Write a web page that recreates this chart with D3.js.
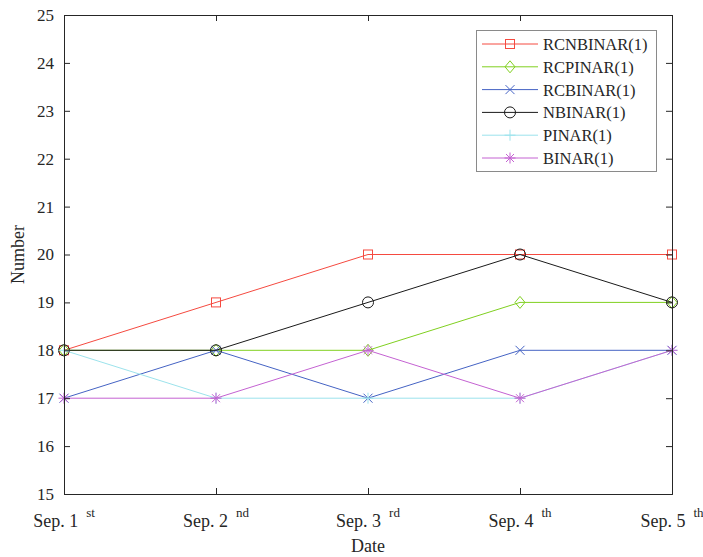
<!DOCTYPE html>
<html><head><meta charset="utf-8">
<script src="https://cdn.jsdelivr.net/npm/d3@7"></script>
<style>body{margin:0;background:#fff}svg{display:block}</style>
</head><body><svg id="c" width="703" height="557"></svg>
<script>
const dates = ["Sep. 1", "Sep. 2", "Sep. 3", "Sep. 4", "Sep. 5"];
const sups = ["st", "nd", "rd", "th", "th"];
const yTicks = [15,16,17,18,19,20,21,22,23,24,25];
const seriesNames = ["RCNBINAR(1)", "RCPINAR(1)", "RCBINAR(1)", "NBINAR(1)", "PINAR(1)", "BINAR(1)"];
const RCNBINAR = [18, 19, 20, 20, 20];
const RCPINAR  = [18, 18, 18, 19, 19];
const RCBINAR  = [17, 18, 17, 18, 18];
const NBINAR   = [18, 18, 19, 20, 19];
const PINAR    = [18, 17, 17, 17, 18];
const BINAR    = [17, 17, 18, 17, 18];
const colors = ["#f54a40", "#80d020", "#4563c4", "#1a1a1a", "#9ce3ec", "#c462d2"];
const markers = ["square", "diamond", "x", "circle", "plus", "star"];
const values = [RCNBINAR, RCPINAR, RCBINAR, NBINAR, PINAR, BINAR];

const FONT = "'Liberation Serif', 'Times New Roman', Times, 'DejaVu Serif', serif";
const svg = d3.select("#c");
const L=64, R=672, T=15, B=494;
const x = d3.scalePoint().domain(d3.range(dates.length)).range([L, R]);
const y = d3.scaleLinear().domain([15, 25]).range([B, T]);
const axisCol = "#262626";

function drawMarker(g, type, cx, cy, col) {
  const s = g.append("g").attr("transform", `translate(${cx},${cy})`)
    .attr("fill","none").attr("stroke",col).attr("stroke-width",1);
  if (type==="square") s.append("rect").attr("x",-4.5).attr("y",-4.5).attr("width",9).attr("height",9);
  else if (type==="diamond") s.append("path").attr("d","M0,-6L5,0L0,6L-5,0Z");
  else if (type==="x") s.append("path").attr("d","M-4.5,-4.5L4.5,4.5M-4.5,4.5L4.5,-4.5");
  else if (type==="circle") s.append("circle").attr("r",5.5);
  else if (type==="plus") s.append("path").attr("d","M-5.5,0L5.5,0M0,-5.5L0,5.5");
  else if (type==="star") s.append("path").attr("d","M-5.5,0L5.5,0M0,-5.5L0,5.5M-4,-4L4,4M-4,4L4,-4");
}

// series
const line = d3.line().x((d,i)=>x(i)).y(d=>y(d));
values.forEach((v, k) => {
  const g = svg.append("g");
  g.append("path").datum(v).attr("d", line).attr("fill","none").attr("stroke",colors[k]).attr("stroke-width",1);
  v.forEach((d,i)=>drawMarker(g, markers[k], x(i), y(d), colors[k]));
});

// axes
const gl = svg.append("g").attr("transform",`translate(${L},0)`)
  .call(d3.axisLeft(y).tickValues(yTicks).tickSize(-6).tickPadding(10).tickFormat(d3.format("d")));
const gr = svg.append("g").attr("transform",`translate(${R},0)`)
  .call(d3.axisRight(y).tickValues(yTicks).tickSize(-6).tickFormat(""));
const gb = svg.append("g").attr("transform",`translate(0,${B})`)
  .call(d3.axisBottom(x).tickSize(-6).tickFormat(""));
const gt = svg.append("g").attr("transform",`translate(0,${T})`)
  .call(d3.axisTop(x).tickSize(-6).tickFormat(""));
[gl,gr,gb,gt].forEach(g=>{
  g.attr("font-family", FONT);
  g.select(".domain").attr("stroke",axisCol);
  g.selectAll(".tick line").attr("stroke",axisCol);
});
gl.selectAll(".tick text").attr("font-size",17).attr("fill",axisCol).style("font-family",FONT);

// x tick labels with superscripts
const xl = svg.append("g");
dates.forEach((d,i)=>{
  const t = xl.append("text").attr("x", x(i)).attr("y", 527).attr("text-anchor","middle")
    .attr("font-size",18).attr("fill",axisCol).style("font-family",FONT);
  t.append("tspan").text(d);
  t.append("tspan").attr("dx",8).attr("dy",-10).attr("font-size",13).text(sups[i]);
});

// axis labels
svg.append("text").attr("x",(L+R)/2).attr("y",552).attr("text-anchor","middle").attr("font-size",18)
  .attr("fill",axisCol).style("font-family",FONT).text("Date");
svg.append("text").attr("transform",`translate(24,${(T+B)/2}) rotate(-90)`).attr("text-anchor","middle")
  .attr("font-size",18).attr("fill",axisCol).style("font-family",FONT).text("Number");

// legend
const lg = svg.append("g");
lg.append("rect").attr("x",476.5).attr("y",30.5).attr("width",180).attr("height",141).attr("fill","#fff").attr("stroke","#8a8a8a").attr("stroke-width",1);
seriesNames.forEach((n,k)=>{
  const yy = 44 + k*22.8;
  lg.append("line").attr("x1",482).attr("x2",538).attr("y1",yy).attr("y2",yy).attr("stroke",colors[k]).attr("stroke-width",1);
  drawMarker(lg, markers[k], 510, yy, colors[k]);
  lg.append("text").attr("x",543).attr("y",yy+6).attr("font-size",16.5).attr("fill",axisCol)
    .style("font-family",FONT).text(n);
});
</script></body></html>
